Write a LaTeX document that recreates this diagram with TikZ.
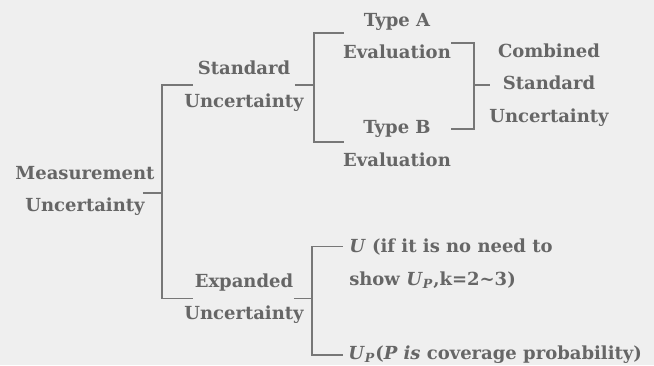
\documentclass[tikz,border=0pt]{standalone}
\usepackage{fontspec}
\setmainfont{DejaVu Serif}
\usepackage{xcolor}
\usetikzlibrary{calc}
\definecolor{bgcol}{HTML}{EFEFEF}
\definecolor{txtcol}{HTML}{666666}
\definecolor{linecol}{HTML}{777777}

\begin{document}
\begin{tikzpicture}[
        x=0.75pt, y=-0.75pt,
        topic/.style={align=center, inner sep=0pt, text=txtcol,
            font=\fontsize{13.5}{24.4}\selectfont\bfseries},
        leaf/.style={topic, align=left, anchor=west},
        link/.style={draw=linecol, line width=1.1pt}
    ]
        \fill[bgcol] (0,0) rectangle (654,365);
        \useasboundingbox (0,0) rectangle (654,365);

        \node[topic] (mu) at (85,191) {Measurement\\Uncertainty};
        \node[topic] (su) at (244,86) {Standard\\Uncertainty};
        \node[topic] (eu) at (244,298.5) {Expanded\\Uncertainty};
        \node[topic] (ta) at (397,36) {Type A\\Evaluation};
        \node[topic] (tb) at (397,143.5) {Type B\\Evaluation};
        \node[topic] (cs) at (549,85) {Combined\\Standard\\Uncertainty};
        \node[leaf] (ua) at (349,263.5) {\textit{U} (if it is no need to\\
            show \textit{U}\textsubscript{\textit{P}},k=2\textasciitilde3)};
        \node[leaf] (up) at (348,355) {\textit{U}\textsubscript{\textit{P}}(\textit{P is} coverage probability)};

        % first level
        \draw[link] ($(mu.east)+(-12,2)$) -- ++(19,0) coordinate (j1);
        \draw[link] (j1) |- ($(su.west)+(9,-1)$);
        \draw[link] (j1) |- ($(eu.west)+(9,0)$);
        % standard uncertainty
        \draw[link] ($(su.east)+(-9,-1)$) -- ++(19,0) coordinate (j2);
        \draw[link] (j2) |- ($(ta.west)+(1,-3)$);
        \draw[link] (j2) |- ($(tb.west)+(1,-1.5)$);
        % combined
        \draw[link] ($(ta.east)+(0,7)$) -| coordinate[pos=0.75] (j3) ($(tb.east)+(23,-14.5)$) -- ($(tb.east)+(0,-14.5)$);
        \coordinate (j4) at ($(j3)+(2,0)$);
        \draw[link] (j4) |- ($(cs.west)+(1,0)$);
        % expanded uncertainty
        \draw[link] ($(eu.east)+(-10,0)$) -- ++(18,0) coordinate (j5);
        \draw[link] (j5) |- ($(ua.west)+(-6,-17)$);
        \draw[link] (j5) |- ($(up.west)+(-5,0)$);
    \end{tikzpicture}
\end{document}
